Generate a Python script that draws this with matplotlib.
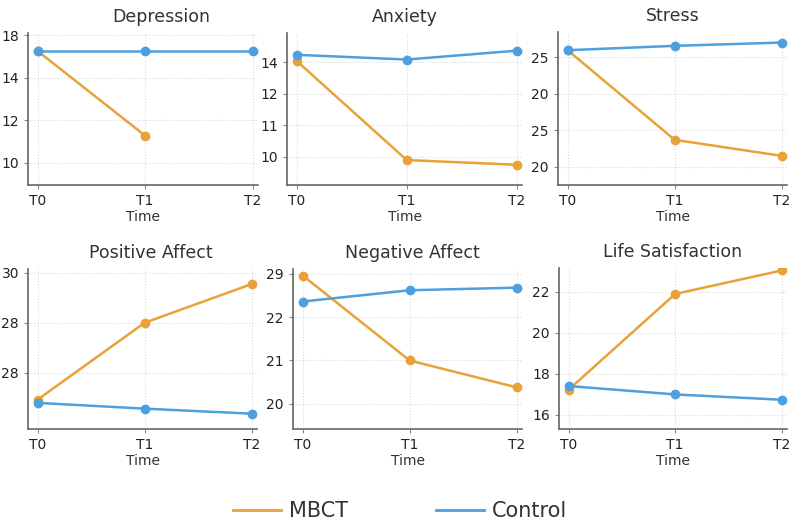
import numpy as np
import matplotlib
matplotlib.use('Agg')
import matplotlib.pyplot as plt
from matplotlib.lines import Line2D

time = ['T0', 'T1', 'T2']
titles = ['Depression', 'Anxiety', 'Stress', 'Positive Affect', 'Negative Affect', 'Life Satisfaction']

depression_mbct = [15.25, 11.27, np.nan]
depression_control = [15.26, 15.26, 15.26]
anxiety_mbct = [13.03, 9.90, 9.75]
anxiety_control = [13.23, 13.08, 13.36]
stress_mbct = [26.0, 13.7, 11.5]
stress_control = [26.0, 26.6, 27.05]
posaff_mbct = [24.94, 28.0, 29.54]
posaff_control = [24.81, 24.58, 24.38]
negaff_mbct = [22.96, 21.0, 20.38]
negaff_control = [22.36, 22.62, 22.68]
life_mbct = [17.22, 21.9, 23.05]
life_control = [17.4, 16.99, 16.73]

# tick values and the labels printed on them
depression_ticks = [16, 14, 12, 10]
depression_labels = ['18', '14', '12', '10']
anxiety_ticks = [13, 12, 11, 10]
anxiety_labels = ['14', '12', '11', '10']
stress_ticks = [25, 20, 15, 10]
stress_labels = ['25', '20', '25', '20']
posaff_ticks = [30, 28, 26]
posaff_labels = ['30', '28', '28']
negaff_ticks = [23, 22, 21, 20]
negaff_labels = ['29', '22', '21', '20']
life_ticks = [22, 20, 18, 16]
life_labels = ['22', '20', '18', '16']

mbct_all = [depression_mbct, anxiety_mbct, stress_mbct, posaff_mbct, negaff_mbct, life_mbct]
control_all = [depression_control, anxiety_control, stress_control, posaff_control, negaff_control, life_control]
ticks_all = [depression_ticks, anxiety_ticks, stress_ticks, posaff_ticks, negaff_ticks, life_ticks]
labels_all = [depression_labels, anxiety_labels, stress_labels, posaff_labels, negaff_labels, life_labels]

ylims = [(8.95, 16.1), (9.11, 13.92), (7.5, 28.5), (23.77, 30.14), (19.42, 23.11), (15.3, 23.17)]
# axes boxes in pixels: left, top, right, bottom
boxes = [(28, 33, 258, 185), (287, 33, 522, 185), (558, 32, 787, 185),
         (28, 269, 257, 429), (293, 269, 522, 429), (559, 268, 787, 429)]
title_x = [0.58, 0.5, 0.5, 0.535, 0.52, 0.5]

c_mbct = '#E8A238'
c_ctrl = '#4D9FDD'
W, H = 800, 530

fig = plt.figure(figsize=(8, 5.3), dpi=100)
x = np.arange(len(time))
for i in range(6):
    l, t, r, b = boxes[i]
    ax = fig.add_axes([l / W, 1 - b / H, (r - l) / W, (b - t) / H])
    ax.plot(x, mbct_all[i], color=c_mbct, lw=1.8, marker='o', ms=6)
    ax.plot(x, control_all[i], color=c_ctrl, lw=1.8, marker='o', ms=6)
    ax.set_xlim(-0.09, 2.05)
    ax.set_ylim(ylims[i])
    ax.set_xticks(x)
    ax.set_xticklabels(time)
    ax.set_yticks(ticks_all[i])
    ax.set_yticklabels(labels_all[i])
    ax.set_title(titles[i], fontsize=12.5, color='#333333', pad=8, x=title_x[i])
    ax.set_xlabel('Time', fontsize=10, color='#333333', labelpad=1.5)
    ax.grid(True, color='#d8d8d8', linestyle=':', lw=0.8)
    for s in ['top', 'right']:
        ax.spines[s].set_visible(False)
    for s in ['left', 'bottom']:
        ax.spines[s].set_color('#666666')
        ax.spines[s].set_linewidth(1.2)
    ax.tick_params(labelsize=10, colors='#222222', length=3, color='#888888')

handles = [Line2D([], [], color=c_mbct, lw=2), Line2D([], [], color=c_ctrl, lw=2)]
fig.legend(handles, ['MBCT', 'Control'], loc='center', bbox_to_anchor=(0.5, 0.036),
           ncol=2, frameon=False, fontsize=15, handlelength=2.3, handletextpad=0.4,
           columnspacing=4.2, labelcolor='#333333')

plt.savefig('out.png', dpi=100)
